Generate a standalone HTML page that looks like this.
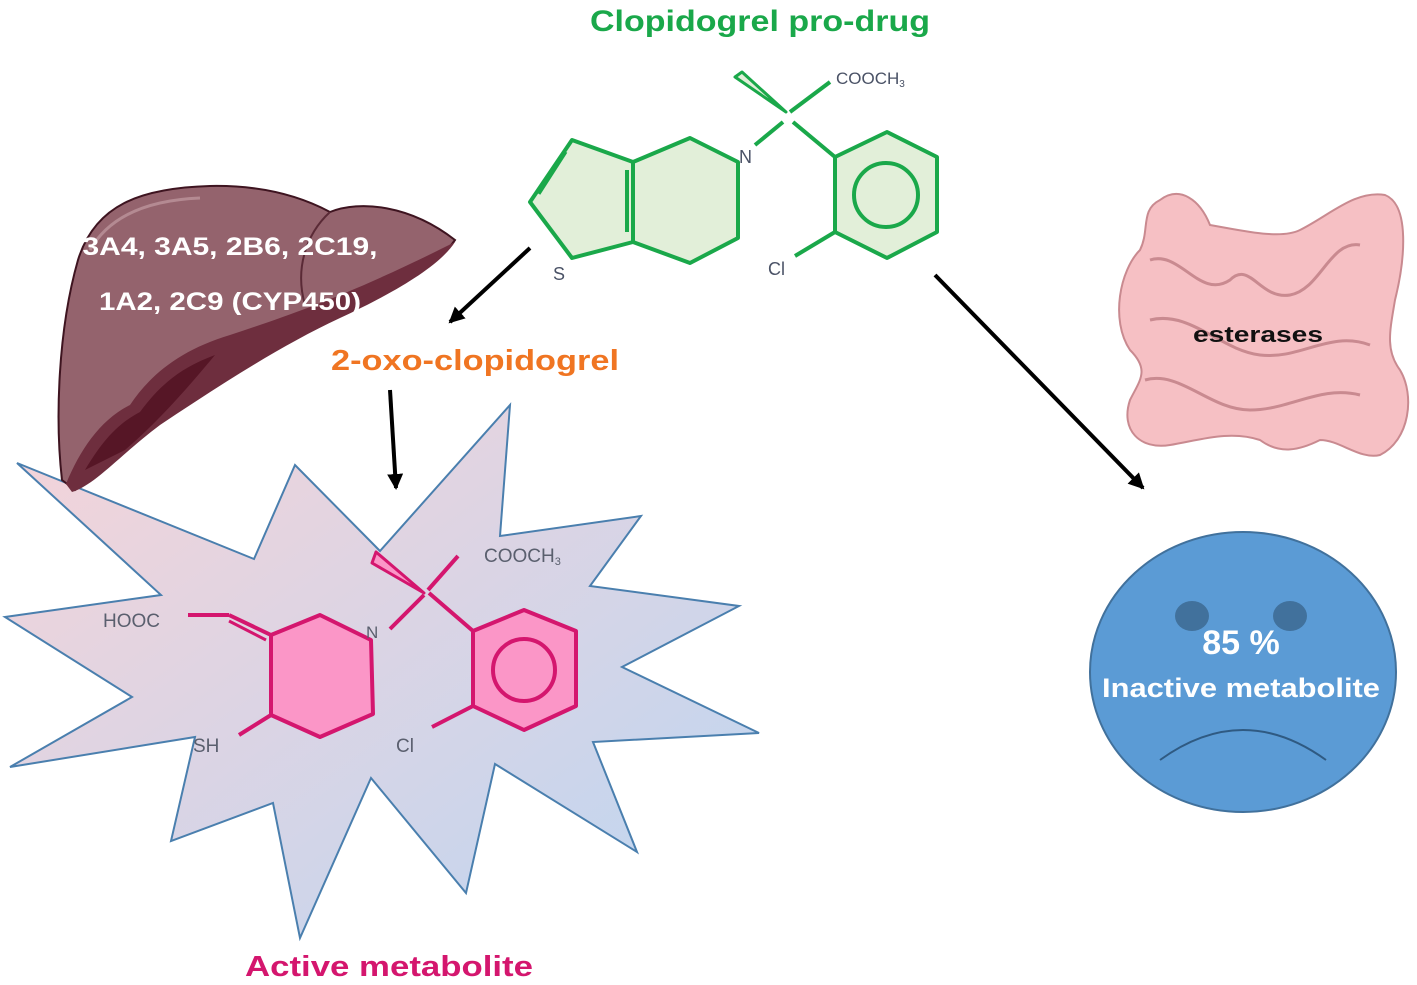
<!DOCTYPE html>
<html><head><meta charset="utf-8"><style>
html,body{margin:0;padding:0;background:#fff}
svg{display:block}
text{font-family:"Liberation Sans",sans-serif}
</style></head><body>
<svg width="1417" height="985" viewBox="0 0 1417 985" xmlns="http://www.w3.org/2000/svg">
<defs>
<linearGradient id="sg" x1="0" y1="0" x2="1" y2="1">
<stop offset="0" stop-color="#f6d3d8"/><stop offset="1" stop-color="#bcd6f2"/>
</linearGradient>
<marker id="ah" markerWidth="18" markerHeight="16" refX="14" refY="8" orient="auto" markerUnits="userSpaceOnUse">
<path d="M0,0 L16,8 L0,16 Z" fill="#000"/>
</marker>
</defs>

<!-- Star -->
<polygon points="17,463 254,559 295,465 380,551 510,405 500,536 641,516 590,586 739,606 622,667 759,733 593,742 637,852 495,764 466,893 371,778 300,938 273,803 171,841 195,737 10,767 132,697 5,617 161,595" fill="url(#sg)" stroke="#4a7fae" stroke-width="2" stroke-linejoin="miter"/>

<!-- Liver -->
<path d="M62,480 C55,420 58,330 78,260 C95,205 140,188 210,186 C260,185 300,196 330,212 C360,200 410,205 455,240 C440,262 400,285 340,312 C280,340 220,380 160,420 C120,450 90,480 75,490 Z" fill="#94636d" stroke="#3e1420" stroke-width="2"/>
<path d="M66,484 C80,450 100,420 130,405 C150,375 180,350 230,335 C290,315 350,295 455,242 C440,265 400,290 340,318 C280,346 220,385 160,425 C120,455 95,485 72,492 Z" fill="#6e2e3e"/>
<path d="M85,470 C100,445 115,425 140,412 C160,385 180,368 215,355 C190,385 160,420 125,450 Z" fill="#561626"/>
<path d="M330,212 C305,235 295,270 305,305" fill="none" stroke="#5a2a36" stroke-width="2"/>
<path d="M90,250 C110,215 150,200 200,198" fill="none" stroke="#b48a92" stroke-width="3"/>
<text x="230" y="255" fill="#fff" font-size="25" font-weight="bold" text-anchor="middle" textLength="295" lengthAdjust="spacingAndGlyphs">3A4, 3A5, 2B6, 2C19,</text>
<text x="230" y="310" fill="#fff" font-size="25" font-weight="bold" text-anchor="middle" textLength="262" lengthAdjust="spacingAndGlyphs">1A2, 2C9 (CYP450)</text>

<!-- Top molecule -->
<g stroke="#1aa84a" stroke-width="4" fill="#e2efd9" stroke-linejoin="round">
<polygon points="572,140 530,202 572,258 633,242 633,162"/>
<polygon points="633,162 690,138 738,162 738,238 690,263 633,242"/>
<line x1="627" y1="170" x2="627" y2="232"/>
<line x1="566" y1="152" x2="539" y2="194" stroke-width="3"/>
<polygon points="835,157 887,132 937,157 937,232 887,258 835,232"/>
<circle cx="886" cy="195" r="32" fill="none"/>
<line x1="755" y1="145" x2="783" y2="122" fill="none"/>
<line x1="793" y1="122" x2="835" y2="157"/>
<line x1="790" y1="112" x2="830" y2="82"/>
<line x1="835" y1="232" x2="795" y2="256"/>
<polygon points="786,112 735,77 742,72" fill="#e2efd9" stroke-width="3"/>
</g>
<g fill="#4a5266" font-size="18">
<text x="739" y="163">N</text>
<text x="553" y="280">S</text>
<text x="768" y="275">Cl</text>
<text x="836" y="84" font-size="17">COOCH<tspan font-size="10" dy="3">3</tspan></text>
</g>

<!-- Active molecule -->
<g stroke="#d4166e" stroke-width="4" fill="#fb96c7" stroke-linejoin="round">
<polygon points="320,615 371,640 373,714 320,737 271,715 271,635"/>
<polygon points="473,631 524,610 576,631 576,706 524,730 473,706"/>
<circle cx="524" cy="670" r="31" fill="none"/>
<line x1="390" y1="629" x2="424" y2="595"/>
<line x1="429" y1="593" x2="473" y2="631"/>
<line x1="428" y1="590" x2="458" y2="556"/>
<line x1="473" y1="706" x2="432" y2="727"/>
<line x1="271" y1="715" x2="239" y2="735"/>
<line x1="188" y1="615" x2="229" y2="615"/>
<line x1="229" y1="615" x2="271" y2="635"/>
<line x1="229" y1="621" x2="266" y2="640" stroke-width="3"/>
<polygon points="424,593 376,552 372,563" fill="#fb96c7" stroke-width="3"/>
</g>
<g fill="#5a5f6e" font-size="19">
<text x="103" y="627">HOOC</text>
<text x="193" y="752">SH</text>
<text x="396" y="752">Cl</text>
<text x="366" y="638" font-size="17">N</text>
<text x="484" y="562" font-size="19">COOCH<tspan font-size="11" dy="3">3</tspan></text>
</g>

<!-- Intestine -->
<g fill="#f6c0c4" stroke="#c98a90" stroke-width="2">
<path d="M1160,200 C1180,185 1200,200 1210,225 C1240,230 1280,240 1300,230 C1330,215 1355,190 1385,195 C1410,205 1405,260 1395,300 C1390,330 1385,350 1400,370 C1415,395 1410,440 1380,455 C1360,460 1340,440 1320,440 C1300,450 1280,455 1260,440 C1230,430 1200,440 1170,445 C1140,450 1120,430 1130,400 C1140,380 1150,370 1130,350 C1110,320 1120,270 1140,250 C1150,230 1140,210 1160,200 Z"/>
<path d="M1150,260 C1180,250 1200,300 1230,280 C1250,260 1260,300 1290,295 C1320,290 1330,240 1360,245" fill="none" stroke-width="3"/>
<path d="M1150,320 C1190,310 1220,350 1260,355 C1300,360 1330,330 1370,345" fill="none" stroke-width="3"/>
<path d="M1145,380 C1180,370 1210,410 1250,410 C1290,410 1320,385 1360,395" fill="none" stroke-width="3"/>
</g>
<text x="1258" y="342" fill="#111" font-size="22" font-weight="bold" text-anchor="middle" textLength="130" lengthAdjust="spacingAndGlyphs">esterases</text>

<!-- Sad face -->
<ellipse cx="1243" cy="672" rx="153" ry="140" fill="#5b9bd5" stroke="#41719c" stroke-width="2"/>
<ellipse cx="1192" cy="616" rx="17" ry="15" fill="#41719c"/>
<ellipse cx="1290" cy="616" rx="17" ry="15" fill="#41719c"/>
<path d="M1160,760 Q1243,700 1326,760" fill="none" stroke="#2f5a82" stroke-width="2"/>
<text x="1241" y="654" fill="#fff" font-size="34" font-weight="bold" text-anchor="middle">85 %</text>
<text x="1241" y="697" fill="#fff" font-size="27" font-weight="bold" text-anchor="middle" textLength="278" lengthAdjust="spacingAndGlyphs">Inactive metabolite</text>

<!-- Arrows -->
<g stroke="#000" stroke-width="4" fill="none">
<line x1="530" y1="248" x2="450" y2="322" marker-end="url(#ah)"/>
<line x1="390" y1="390" x2="396" y2="488" marker-end="url(#ah)"/>
<line x1="935" y1="275" x2="1143" y2="488" marker-end="url(#ah)"/>
</g>

<!-- Titles -->
<text x="760" y="31" fill="#1aa84a" font-size="30" font-weight="bold" text-anchor="middle" textLength="340" lengthAdjust="spacingAndGlyphs">Clopidogrel pro-drug</text>
<text x="475" y="370" fill="#f07522" font-size="29" font-weight="bold" text-anchor="middle" textLength="288" lengthAdjust="spacingAndGlyphs">2-oxo-clopidogrel</text>
<text x="389" y="976" fill="#d4166e" font-size="29" font-weight="bold" text-anchor="middle" textLength="288" lengthAdjust="spacingAndGlyphs">Active metabolite</text>
</svg>
</body></html>
